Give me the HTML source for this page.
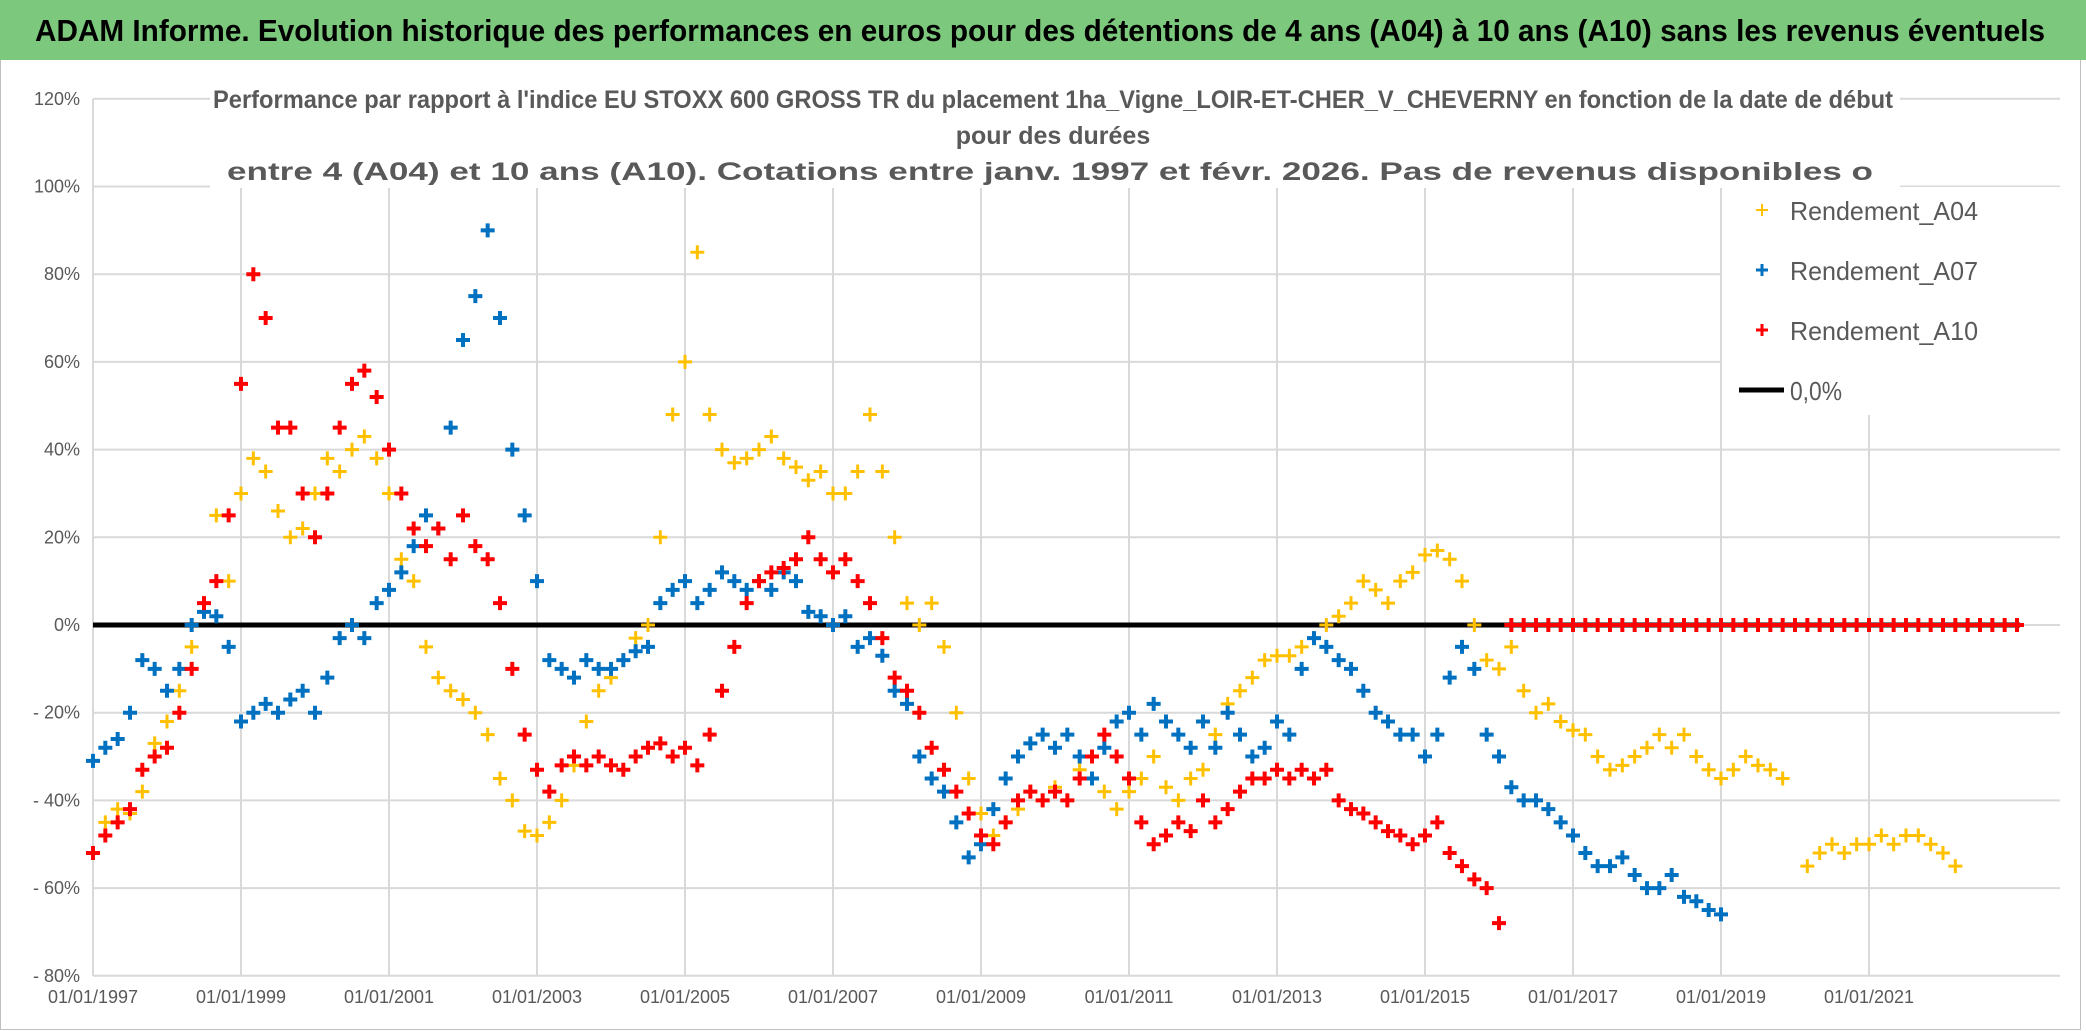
<!DOCTYPE html>
<html><head><meta charset="utf-8"><style>
html,body{margin:0;padding:0;background:#fff}
svg{display:block;font-family:"Liberation Sans",sans-serif}
</style></head><body>
<svg id="chart" width="2086" height="1031" viewBox="0 0 2086 1031">
  <rect x="0" y="0" width="2086" height="1031" fill="#fff"/>
  <rect x="0.5" y="0.5" width="2080" height="1029" fill="none" stroke="#bfbfbf"/>
  <rect x="0" y="0" width="2086" height="60" fill="#7cc87d"/>
  <text x="1040" y="41" text-anchor="middle" font-size="31" font-weight="bold" fill="#000" textLength="2010" lengthAdjust="spacingAndGlyphs">ADAM Informe. Evolution historique des performances en euros pour des détentions de 4 ans (A04) à 10 ans (A10) sans les revenus éventuels</text>
  <g id="grid"></g>
  <line x1="93" y1="99" x2="93" y2="976" stroke="#d9d9d9" stroke-width="2"/>
  <g id="ylabels"></g>
  <g id="xlabels"></g>
  <rect x="210" y="80" width="1690" height="108" fill="#fff"/>
  <g fill="#595959" font-size="25" font-weight="bold" text-anchor="middle">
    <text x="1053" y="108" textLength="1680" lengthAdjust="spacingAndGlyphs">Performance par rapport à l'indice EU STOXX 600 GROSS TR  du placement 1ha_Vigne_LOIR-ET-CHER_V_CHEVERNY en fonction de la date de début</text>
    <text x="1053" y="144">pour des durées</text>
    <text x="1050" y="180" textLength="1646" lengthAdjust="spacingAndGlyphs">entre 4 (A04) et 10 ans (A10). Cotations entre janv. 1997 et févr. 2026. Pas de revenus disponibles o</text>
  </g>
  <line id="zeroline" x1="93" x2="2020" stroke="#000" stroke-width="5"/>
  <g id="series"></g>
  <rect x="1722" y="187" width="340" height="228" fill="#fff"/>
  <g font-size="26" fill="#595959">
    <g>
      <path d="M1762 204v12M1756 210h12" stroke="#ffc000" stroke-width="2"/>
      <text x="1790" y="220" textLength="188" lengthAdjust="spacingAndGlyphs">Rendement_A04</text>
    </g>
    <g>
      <path d="M1762 264v12M1756 270h12" stroke="#0070c0" stroke-width="3"/>
      <text x="1790" y="280" textLength="188" lengthAdjust="spacingAndGlyphs">Rendement_A07</text>
    </g>
    <g>
      <path d="M1762 324v12M1756 330h12" stroke="#ff0000" stroke-width="3"/>
      <text x="1790" y="340" textLength="188" lengthAdjust="spacingAndGlyphs">Rendement_A10</text>
    </g>
    <g>
      <line x1="1739" y1="390" x2="1784" y2="390" stroke="#000" stroke-width="5"/>
      <text x="1790" y="400" textLength="52" lengthAdjust="spacingAndGlyphs">0,0%</text>
    </g>
  </g>
</svg>
<script>
const yTicks = [120,100,80,60,40,20,0,-20,-40,-60,-80];
const yTickLabels = ["120%","100%","80%","60%","40%","20%","0%","- 20%","- 40%","- 60%","- 80%"];
const xTickYears = [1997,1999,2001,2003,2005,2007,2009,2011,2013,2015,2017,2019,2021];
const xTickLabels = ["01/01/1997","01/01/1999","01/01/2001","01/01/2003","01/01/2005","01/01/2007","01/01/2009","01/01/2011","01/01/2013","01/01/2015","01/01/2017","01/01/2019","01/01/2021"];
const seriesStart = 1997;
const seriesStep = 1/6;
const a04 = [-52,-45,-42,-43,-38,-27,-22,-15,-5,5,25,10,30,38,35,26,20,22,30,38,35,40,43,38,30,15,10,-5,-12,-15,-17,-20,-25,-35,-40,-47,-48,-45,-40,-32,-22,-15,-12,-8,-3,0,20,48,60,85,48,40,37,38,40,43,38,36,33,35,30,30,35,48,35,20,5,0,5,-5,-20,-35,-43,-48,-45,-42,-38,-40,-37,-40,-33,-30,-38,-42,-38,-35,-30,-37,-40,-35,-33,-25,-18,-15,-12,-8,-7,-7,-5,-3,0,2,5,10,8,5,10,12,16,17,15,10,0,-8,-10,-5,-15,-20,-18,-22,-24,-25,-30,-33,-32,-30,-28,-25,-28,-25,-30,-33,-35,-33,-30,-32,-33,-35,null,-55,-52,-50,-52,-50,-50,-48,-50,-48,-48,-50,-52,-55];
const a07 = [-31,-28,-26,-20,-8,-10,-15,-10,0,3,2,-5,-22,-20,-18,-20,-17,-15,-20,-12,-3,0,-3,5,8,12,18,25,22,45,65,75,90,70,40,25,10,-8,-10,-12,-8,-10,-10,-8,-6,-5,5,8,10,5,8,12,10,8,10,8,12,10,3,2,0,2,-5,-3,-7,-15,-18,-30,-35,-38,-45,-53,-50,-42,-35,-30,-27,-25,-28,-25,-30,-35,-28,-22,-20,-25,-18,-22,-25,-28,-22,-28,-20,-25,-30,-28,-22,-25,-10,-3,-5,-8,-10,-15,-20,-22,-25,-25,-30,-25,-12,-5,-10,-25,-30,-37,-40,-40,-42,-45,-48,-52,-55,-55,-53,-57,-60,-60,-57,-62,-63,-65,-66];
const a10 = [-52,-48,-45,-42,-33,-30,-28,-20,-10,5,10,25,55,80,70,45,45,30,20,30,45,55,58,52,40,30,22,18,22,15,25,18,15,5,-10,-25,-33,-38,-32,-30,-32,-30,-32,-33,-30,-28,-27,-30,-28,-32,-25,-15,-5,5,10,12,13,15,20,15,12,15,10,5,-3,-12,-15,-20,-28,-33,-38,-43,-48,-50,-45,-40,-38,-40,-38,-40,-35,-30,-25,-30,-35,-45,-50,-48,-45,-47,-40,-45,-42,-38,-35,-35,-33,-35,-33,-35,-33,-40,-42,-43,-45,-47,-48,-50,-48,-45,-52,-55,-58,-60,-68,0,0,0,0,0,0,0,0,0,0,0,0,0,0,0,0,0,0,0,0,0,0,0,0,0,0,0,0,0,0,0,0,0,0,0,0,0,0,0,0,0,0];

const NS = "http://www.w3.org/2000/svg";
const xScale = t => 93 + (t - 1997) * 74;
const yScale = v => 625 - v * 4.385;

const grid = document.getElementById('grid');
yTicks.forEach((v, i) => {
  const l = document.createElementNS(NS, 'line');
  l.setAttribute('x1', 93); l.setAttribute('x2', 2060);
  l.setAttribute('y1', yScale(v)); l.setAttribute('y2', yScale(v));
  l.setAttribute('stroke', '#d9d9d9'); l.setAttribute('stroke-width', 2);
  
  
  grid.appendChild(l);
  const t = document.createElementNS(NS, 'text');
  t.setAttribute('x', 80); t.setAttribute('y', yScale(v) + 6);
  t.setAttribute('text-anchor', 'end'); t.setAttribute('font-size', 18); t.setAttribute('fill', '#595959');
  t.textContent = yTickLabels[i];
  
  
  document.getElementById('ylabels').appendChild(t);
});
xTickYears.forEach((yr, i) => {
  const x = xScale(yr);
  if (i > 0) {
    const l = document.createElementNS(NS, 'line');
    l.setAttribute('x1', x); l.setAttribute('x2', x);
    l.setAttribute('y1', 99); l.setAttribute('y2', 976);
    l.setAttribute('stroke', '#d9d9d9'); l.setAttribute('stroke-width', 2);
    
    
    grid.appendChild(l);
  }
  const t = document.createElementNS(NS, 'text');
  t.setAttribute('x', x); t.setAttribute('y', 1003);
  t.setAttribute('text-anchor', 'middle'); t.setAttribute('font-size', 18); t.setAttribute('fill', '#595959');
  t.textContent = xTickLabels[i];
  
  
  document.getElementById('xlabels').appendChild(t);
});
const zl = document.getElementById('zeroline');
zl.setAttribute('y1', yScale(0)); zl.setAttribute('y2', yScale(0));

function drawSeries(vals, color, width, name) {
  const g = document.createElementNS(NS, 'g');
  
  
  let d = '';
  vals.forEach((v, i) => {
    if (v === null) return;
    const x = xScale(seriesStart + i * seriesStep), y = yScale(v);
    d += `M${x - 7} ${y}h14M${x} ${y - 7}v14`;
  });
  const p = document.createElementNS(NS, 'path');
  p.setAttribute('d', d);
  p.setAttribute('stroke', color);
  p.setAttribute('stroke-width', width);
  p.setAttribute('fill', 'none');
  
  
  g.appendChild(p);
  document.getElementById('series').appendChild(g);
}
drawSeries(a04, '#ffc000', 3, 'series-a04');
drawSeries(a07, '#0070c0', 4, 'series-a07');
drawSeries(a10, '#ff0000', 4, 'series-a10');
</script>
</body></html>
